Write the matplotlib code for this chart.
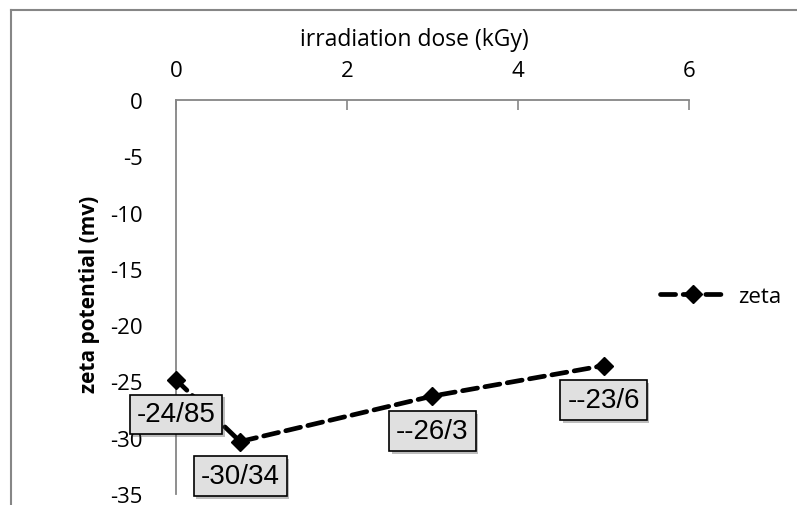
import matplotlib.pyplot as plt
import matplotlib.patheffects as pe
from matplotlib.lines import Line2D

# dane
dose = [0, 0.75, 3, 5]
zeta = [-24.85, -30.34, -26.3, -23.6]
point_labels = ["-24/85", "-30/34", "--26/3", "--23/6"]
x_ticks = [0, 2, 4, 6]
y_ticks = [0, -5, -10, -15, -20, -25, -30, -35]

plt.rcParams["font.family"] = ["Open Sans", "DejaVu Sans"]
grey = "#868686"

fig = plt.figure(figsize=(7.97, 5.06), dpi=100)
ax = fig.add_axes([0.2208, 0.0217, 0.8645 - 0.2208, 0.8004 - 0.0217])

style = dict(color="black", lw=3.4, linestyle=(0, (3.2, 1.6)),
             dash_capstyle="round", marker="D", markersize=9.5)
ax.plot(dose, zeta, label="zeta", clip_on=False, zorder=3, **style)

ax.set_xlim(0, 6)
ax.set_ylim(-35, 0)
ax.set_xticks(x_ticks)
ax.set_yticks(y_ticks)
ax.set_yticklabels([str(v) for v in y_ticks])
ax.xaxis.tick_top()
ax.xaxis.set_label_position("top")
ax.tick_params(axis="x", direction="in", length=7, width=1.2, color=grey,
               labelsize=16, pad=14)
ax.tick_params(axis="y", length=0, labelsize=16, pad=24)

for side in ["right", "bottom"]:
    ax.spines[side].set_visible(False)
for side in ["top", "left"]:
    ax.spines[side].set_color(grey)
    ax.spines[side].set_linewidth(1.3)

ax.set_xlabel("irradiation dose (kGy)", fontsize=16.5)
ax.xaxis.set_label_coords(0.464, 1.14)
ax.set_ylabel("zeta potential (mv)", fontsize=15, fontweight="bold")
ax.yaxis.set_label_coords(-0.148, 0.51)

# etykiety punktów w szarych ramkach z cieniem
for x, y, txt in zip(dose, zeta, point_labels):
    ann = ax.annotate(txt, (x, y), xytext=(0, -25), textcoords="offset points",
                      ha="center", va="center", fontsize=20, family="Liberation Sans",
                      bbox=dict(boxstyle="square,pad=0.25", facecolor="#e0e0e0",
                                edgecolor="black", lw=1.2),
                      annotation_clip=False, zorder=4)
    ann.get_bbox_patch().set_path_effects(
        [pe.SimplePatchShadow(offset=(2, -2), alpha=0.35), pe.Normal()])

handle = Line2D([], [], **style)
fig.legend([handle], ["zeta"], loc="center left", bbox_to_anchor=(0.803, 0.413),
           frameon=False, fontsize=16, handlelength=3.0, handletextpad=0.5)

# ramka obszaru wykresu (widoczna góra i lewa krawędź)
fig.add_artist(Line2D([11 / 797, 1], [1 - 11 / 506] * 2, color=grey, lw=1.5))
fig.add_artist(Line2D([11 / 797] * 2, [0, 1 - 11 / 506], color=grey, lw=1.5))

fig.savefig("out.png", dpi=100)
